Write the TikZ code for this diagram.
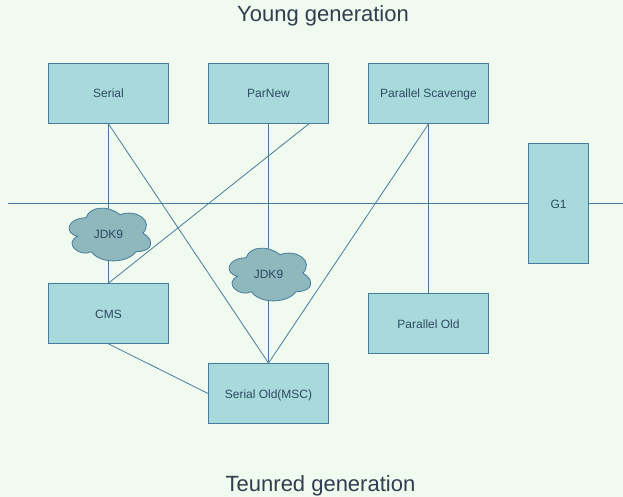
\documentclass[tikz,border=0pt]{standalone}
\usepackage{fontspec}
\setmainfont{Liberation Sans}
\usetikzlibrary{backgrounds,calc}
\definecolor{bgc}{HTML}{F1FAEE}
\definecolor{boxfill}{HTML}{A8DADC}
\definecolor{edge}{HTML}{457B9D}
\definecolor{cloudfill}{HTML}{8FB8BD}
\definecolor{ink}{HTML}{2E4A62}
\definecolor{titleink}{HTML}{2F3E50}
\tikzset{
  gcbox/.style={draw=edge,fill=boxfill,line width=0.8pt,minimum width=120pt,minimum height=60pt,inner sep=0pt,text=ink,font=\fontsize{12}{14}\selectfont,text height=10pt,text depth=1pt},
  tallbox/.style={gcbox,minimum width=60pt,minimum height=120pt},
  link/.style={draw=edge,line width=0.8pt},
  headline/.style={text=titleink,font=\fontsize{22}{26}\selectfont,inner sep=0pt},
  cloudlabel/.style={text=ink,font=\fontsize{12}{14}\selectfont,inner sep=0pt,minimum width=80pt,minimum height=52pt,text height=10pt,text depth=1pt},
  cloudpath/.style={draw=edge,fill=cloudfill,line width=0.8pt}
}
\newcommand{\cloudat}[2]{%
  \draw[cloudpath,shift={(#1,#2)},x=0.76pt,y=-0.77pt]
    (-35,-23) .. controls (-59,-23) and (-65,-3) .. (-45.8,1)
    .. controls (-65,9.8) and (-43.4,29) .. (-27.8,21)
    .. controls (-17,37) and (19,37) .. (31,21)
    .. controls (55,21) and (55,5) .. (40,-3)
    .. controls (55,-19) and (31,-35) .. (10,-27)
    .. controls (-5,-39) and (-29,-39) .. (-35,-23) -- cycle;}
\begin{document}
\begin{tikzpicture}[x=1pt,y=-1pt]
\useasboundingbox (0,0) rectangle (623,497);
\begin{pgfonlayer}{background}
\fill[bgc] (0,0) rectangle (623,497);
\end{pgfonlayer}
\node[headline] (young) at (323,15.5) {Young generation};
\node[headline] (tenured) at (320.5,486) {Teunred generation};
\node[gcbox] (serial) at (108.5,93.5) {Serial};
\node[gcbox] (parnew) at (268.5,93.5) {ParNew};
\node[gcbox] (scav) at (428.5,93.5) {Parallel Scavenge};
\node[tallbox] (g1) at (558.5,203.5) {G1};
\node[gcbox] (cms) at (108.5,313.5) {CMS};
\node[gcbox] (parold) at (428.5,323.5) {Parallel Old};
\node[gcbox] (serold) at (268.5,393.5) {Serial Old(MSC)};
\coordinate (railL) at (8,203.5);
\coordinate (railR) at (623,203.5);
\cloudat{112.5}{235.5}
\node[cloudlabel] (jdkA) at (108.5,233.5) {JDK9};
\cloudat{272.5}{275.5}
\node[cloudlabel] (jdkB) at (268.5,273.5) {JDK9};
\begin{pgfonlayer}{background}
\draw[link] (railL) -- (railR);
\draw[link] (serial.south) -- (jdkA.center);
\draw[link] (jdkA.center) -- (cms.north);
\draw[link] (serial.south) -- (serold.north);
\draw[link] (parnew.south) -- (jdkB.center);
\draw[link] (jdkB.center) -- (serold.north);
\draw[link] ($(parnew.south)!0.667!(parnew.south east)$) -- (cms.north);
\draw[link] (scav.south) -- (serold.north);
\draw[link] (scav.south) -- (parold.north);
\draw[link] (cms.south) -- (serold.west);
\end{pgfonlayer}
\end{tikzpicture}
\end{document}
